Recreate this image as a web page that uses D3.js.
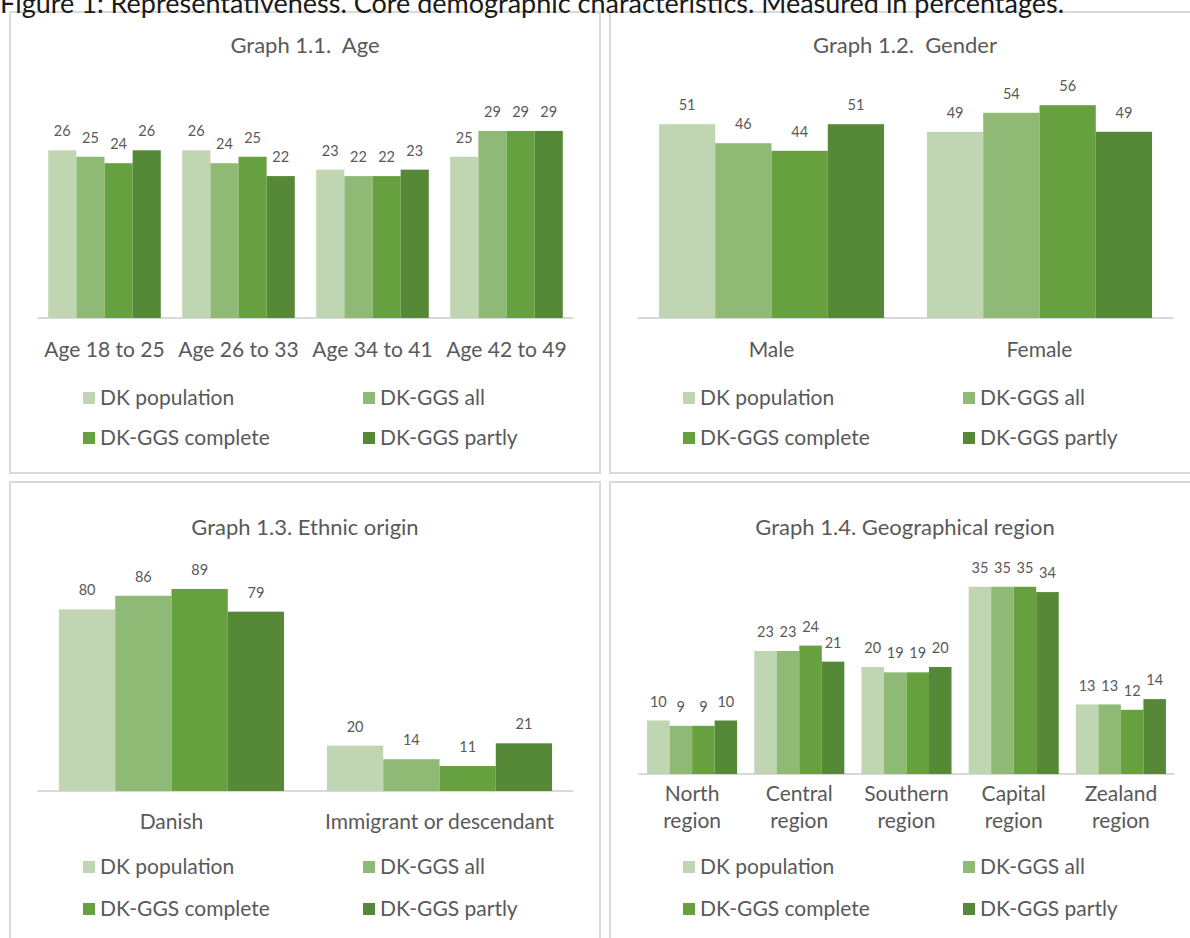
<!DOCTYPE html>
<html>
<head>
<meta charset="utf-8">
<script src="https://cdn.jsdelivr.net/npm/d3@7"></script>
<style>
  html, body { margin: 0; padding: 0; background: #ffffff; }
  svg { display: block; }
  text { font-family: Lato, "Open Sans", sans-serif; fill: #595959; white-space: pre; }
</style>
</head>
<body>
<svg id="fig" width="1190" height="938"></svg>
<script>
// Series shared by all four graphs
const seriesNames = ["DK population", "DK-GGS all", "DK-GGS complete", "DK-GGS partly"];
const seriesColors = ["#c0d5b2", "#8fba76", "#67a13f", "#558837"];

// Graph 1.1 Age
const ageCategories = ["Age 18 to 25", "Age 26 to 33", "Age 34 to 41", "Age 42 to 49"];
const agePopulation = [26, 26, 23, 25];
const ageAll        = [25, 24, 22, 29];
const ageComplete   = [24, 25, 22, 29];
const agePartly     = [26, 22, 23, 29];

// Graph 1.2 Gender
const genderCategories = ["Male", "Female"];
const genderPopulation = [51, 49];
const genderAll        = [46, 54];
const genderComplete   = [44, 56];
const genderPartly     = [51, 49];

// Graph 1.3 Ethnic origin
const ethnicCategories = ["Danish", "Immigrant or descendant"];
const ethnicPopulation = [80, 20];
const ethnicAll        = [86, 14];
const ethnicComplete   = [89, 11];
const ethnicPartly     = [79, 21];

// Graph 1.4 Geographical region
const regionCategories = [["North", "region"], ["Central", "region"], ["Southern", "region"], ["Capital", "region"], ["Zealand", "region"]];
const regionPopulation = [10, 23, 20, 35, 13];
const regionAll        = [9, 23, 19, 35, 13];
const regionComplete   = [9, 24, 19, 35, 12];
const regionPartly     = [10, 21, 20, 34, 14];

const figureTitle = "Figure 1: Representativeness. Core demographic characteristics. Measured in percentages.";

const svg = d3.select("#fig");

// Panel frames and layout
const panels = [
  { title: "Graph 1.1.  Age", cats: ageCategories,
    series: [agePopulation, ageAll, ageComplete, agePartly],
    box: [10, 12, 590, 461], titleY: 45, plotX: [37.5, 573.5], base: 318, yMax: 30, yTop: 124.5,
    catY: 350, legendY: [398, 438] },
  { title: "Graph 1.2.  Gender", cats: genderCategories,
    series: [genderPopulation, genderAll, genderComplete, genderPartly],
    box: [610, 12, 600, 461], titleY: 45, plotX: [637.5, 1173.5], base: 318, yMax: 60, yTop: 90,
    catY: 350, legendY: [398, 438] },
  { title: "Graph 1.3. Ethnic origin", cats: ethnicCategories,
    series: [ethnicPopulation, ethnicAll, ethnicComplete, ethnicPartly],
    box: [10, 482, 590, 480], titleY: 527, plotX: [37.5, 573.5], base: 791, yMax: 100, yTop: 564,
    catY: 822, legendY: [867, 909] },
  { title: "Graph 1.4. Geographical region", cats: regionCategories,
    series: [regionPopulation, regionAll, regionComplete, regionPartly],
    box: [610, 482, 600, 480], titleY: 527, plotX: [638.5, 1174.5], base: 774, yMax: 40, yTop: 560,
    catY: 794, legendY: [867, 909] }
];

panels.forEach(p => {
  const g = svg.append("g");
  const [bx, by, bw, bh] = p.box;

  g.append("rect")
    .attr("x", bx).attr("y", by).attr("width", bw).attr("height", bh)
    .attr("fill", "#ffffff").attr("stroke", "#d9d9d9").attr("stroke-width", 2);

  g.append("text")
    .attr("x", bx + 295).attr("y", p.titleY)
    .attr("dy", "0.35em")
    .attr("text-anchor", "middle")
    .style("font-size", "22px")
    .text(p.title);

  const catIdx = d3.range(p.cats.length);
  const x0 = d3.scaleBand().domain(catIdx).range(p.plotX).paddingInner(0.16).paddingOuter(0.08);
  const x1 = d3.scaleBand().domain(d3.range(seriesNames.length)).range([0, x0.bandwidth()]);
  const y = d3.scaleLinear().domain([0, p.yMax]).range([p.base, p.yTop]);

  // baseline
  g.append("line")
    .attr("x1", p.plotX[0]).attr("x2", p.plotX[1])
    .attr("y1", p.base).attr("y2", p.base)
    .attr("stroke", "#d9d9d9").attr("stroke-width", 2);

  const groups = g.selectAll("g.cat").data(catIdx).join("g")
    .attr("class", "cat")
    .attr("transform", i => `translate(${x0(i)},0)`);

  const cells = groups.selectAll("g.bar")
    .data(i => p.series.map((vals, s) => ({ s, v: vals[i] })))
    .join("g").attr("class", "bar");

  cells.append("rect")
    .attr("x", d => x1(d.s))
    .attr("y", d => y(d.v))
    .attr("width", x1.bandwidth())
    .attr("height", d => p.base - y(d.v))
    .attr("fill", d => seriesColors[d.s]);

  cells.append("text")
    .attr("x", d => x1(d.s) + x1.bandwidth() / 2)
    .attr("y", d => y(d.v) - 19)
    .attr("dy", "0.35em")
    .attr("text-anchor", "middle")
    .style("font-size", "14.5px")
    .text(d => d.v);

  // category labels
  groups.append("text")
    .attr("x", x0.bandwidth() / 2)
    .attr("y", p.catY)
    .attr("text-anchor", "middle")
    .style("font-size", "21px")
    .each(function (i) {
      const lines = Array.isArray(p.cats[i]) ? p.cats[i] : [p.cats[i]];
      d3.select(this).selectAll("tspan").data(lines).join("tspan")
        .attr("x", x0.bandwidth() / 2)
        .attr("dy", (d, k) => k === 0 ? "0.35em" : "1.28em")
        .text(d => d);
    });

  // legend, two columns by two rows
  const legend = g.selectAll("g.leg").data(seriesNames).join("g")
    .attr("class", "leg")
    .attr("transform", (d, k) => `translate(${bx + 73 + (k % 2) * 280},${p.legendY[Math.floor(k / 2)]})`);
  legend.append("rect")
    .attr("x", 0).attr("y", -6).attr("width", 12).attr("height", 12)
    .attr("fill", (d, k) => seriesColors[k]);
  legend.append("text")
    .attr("x", 17).attr("y", 0).attr("dy", "0.35em")
    .style("font-size", "21px")
    .text(d => d);
});

// Figure heading along the top edge
svg.append("text")
  .attr("x", 0).attr("y", 13)
  .style("font-size", "27px")
  .style("fill", "#1a1a1a")
  .text(figureTitle);
</script>
</body>
</html>
